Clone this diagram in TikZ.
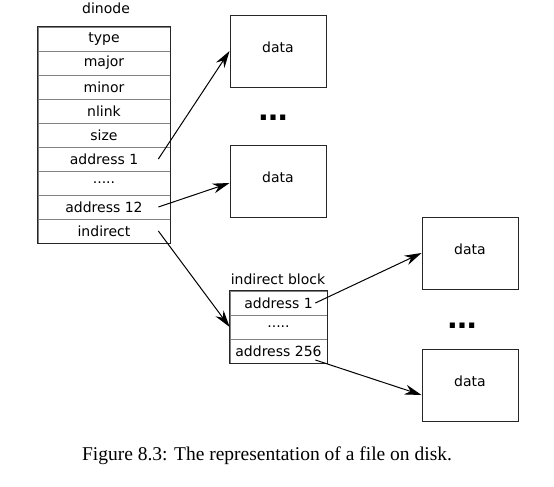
\documentclass[tikz,border=0pt]{standalone}
\usepackage{fontspec}
\setmainfont{DejaVu Sans}
\newfontfamily\capfont{Liberation Serif}
\usetikzlibrary{arrows.meta}
\newcommand\fivedots{.....}

\begin{document}
\begin{tikzpicture}[x=1pt,y=-1pt,
  font=\fontsize{14}{16}\selectfont,
  cell/.style={draw=black!50,line width=0.7pt,minimum width=132pt,minimum height=24pt,inner sep=0pt},
  icell/.style={cell,minimum width=97pt},
  datablock/.style={draw=black!85,line width=0.9pt,minimum width=96pt,minimum height=72pt,inner sep=0pt,text depth=8pt},
  bigdots/.style={anchor=base,font=\fontsize{29}{29}\selectfont\bfseries},
  ptr/.style={-{Stealth[length=17pt,width=10pt]},line width=1pt}]
  \useasboundingbox (0,0) rectangle (554,487);
  % dinode
  \node (dinode) at (106,8) {dinode};
  \foreach \n/\t [count=\k] in {dtype/type,dmajor/major,dminor/minor,dnlink/nlink,dsize/size,
      daddr1/address 1,ddots/\fivedots,daddr12/address 12,dindirect/indirect}
    \node[cell] (\n) at (104,{15+24*\k}) {\t};
  \draw[black!85,line width=0.9pt] (dtype.north west) rectangle (dindirect.south east);
  % indirect block
  \node (iblock) at (278,279) {indirect block};
  \foreach \n/\t [count=\k] in {iaddr1/address 1,idots/\fivedots,iaddr256/address 256}
    \node[icell] (\n) at (278.5,{279+24*\k}) {\t};
  \draw[black!85,line width=0.9pt] (iaddr1.north west) rectangle (iaddr256.south east);
  % data blocks
  \node[datablock] (data1) at (278,51) {data};
  \node[datablock] (data2) at (278,181) {data};
  \node[datablock] (data3) at (470,253) {data};
  \node[datablock] (data4) at (470,385) {data};
  \node[bigdots] (dots1) at (273,120) {\ldots};
  \node[bigdots] (dots2) at (462,328) {\ldots};
  % pointers
  \draw[ptr] ([xshift=-12pt]daddr1.east) -- (data1.west);
  \draw[ptr] ([xshift=-12pt]daddr12.east) -- ([yshift=-2pt]data2.west);
  \draw[ptr] ([xshift=-12pt]dindirect.east) -- (idots.west);
  \draw[ptr] ([xshift=-12pt]iaddr1.east) -- (data3.west);
  \draw[ptr] ([xshift=-12pt,yshift=-9pt]iaddr256.east) -- ([yshift=-10pt]data4.west);
  \node[anchor=base,font=\capfont\fontsize{19.5}{22}\selectfont] (caption) at (267,460)
    {Figure 8.3: The representation of a file on disk.};
\end{tikzpicture}
\end{document}
